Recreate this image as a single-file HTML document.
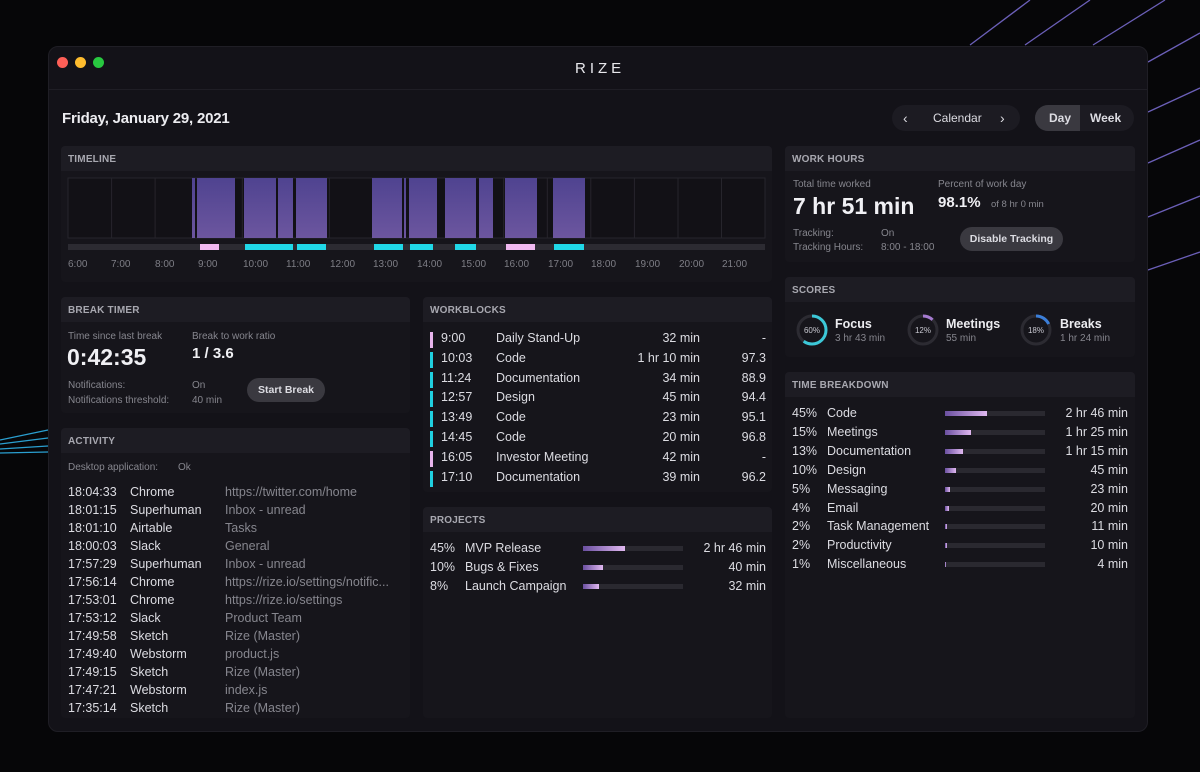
<!DOCTYPE html>
<html><head><meta charset="utf-8"><style>
*{margin:0;padding:0;box-sizing:border-box}
body{width:1200px;height:772px;background:#060608;font-family:"Liberation Sans",sans-serif;color:#dcdce2;position:relative;overflow:hidden}
.a{position:absolute;white-space:nowrap}
.win{position:absolute;left:48px;top:46px;width:1100px;height:686px;background:#131218;border-radius:10px;border:1px solid #1f1e25}
.p{position:absolute;background:#16151b;border-radius:4px;overflow:hidden}
.p .h{height:25px;background:#1d1c23;font-size:10px;font-weight:bold;color:#a8a8b0;padding:8px 0 0 7px;letter-spacing:.2px}
.s{color:#86868e}
.f13{font-size:12.5px}
.bar{position:absolute;height:5px;background:#2a2930;width:100px}
.bar i{position:absolute;left:0;top:0;height:5px;background:linear-gradient(90deg,#6a4fa0,#e0b8f0)}
.r{text-align:right}
</style></head><body>
<svg class="a" style="left:0;top:0" width="1200" height="772">
<g stroke="#6b5fb8" stroke-width="1.3">
<line x1="970" y1="45" x2="1030" y2="0"/><line x1="1025" y1="45" x2="1090" y2="0"/><line x1="1093" y1="45" x2="1165" y2="0"/>
<line x1="1148" y1="62" x2="1200" y2="33"/><line x1="1148" y1="112" x2="1200" y2="88"/><line x1="1148" y1="163" x2="1200" y2="140"/>
<line x1="1148" y1="217" x2="1200" y2="196"/><line x1="1148" y1="270" x2="1200" y2="252"/>
</g>
<g stroke="#2a9fd0" stroke-width="1.3">
<line x1="0" y1="440" x2="48" y2="430"/><line x1="0" y1="444" x2="48" y2="438"/><line x1="0" y1="449" x2="48" y2="446"/><line x1="0" y1="453" x2="48" y2="452"/>
</g>
</svg>
<div class="win"></div>
<div class="a" style="left:57px;top:57px;width:11px;height:11px;border-radius:50%;background:#fe5f57"></div>
<div class="a" style="left:75px;top:57px;width:11px;height:11px;border-radius:50%;background:#febc2e"></div>
<div class="a" style="left:93px;top:57px;width:11px;height:11px;border-radius:50%;background:#28c840"></div>
<div class="a" style="left:49px;top:89px;width:1098px;height:1px;background:#1f1e25"></div>
<div class="a" style="left:575px;top:60px;font-size:15px;letter-spacing:4px;color:#e8e8ec">RIZE</div>
<div class="a" style="left:62px;top:110px;font-size:15px;font-weight:bold;letter-spacing:-0.2px;color:#ececf0">Friday, January 29, 2021</div>
<div class="a" style="left:892px;top:105px;width:128px;height:26px;border-radius:13px;background:#1c1b22"></div>
<div class="a" style="left:903px;top:110px;font-size:14px">‹</div>
<div class="a" style="left:933px;top:111px;font-size:12px">Calendar</div>
<div class="a" style="left:1000px;top:110px;font-size:14px">›</div>
<div class="a" style="left:1035px;top:105px;width:99px;height:26px;border-radius:13px;background:#1c1b22;overflow:hidden"><div style="width:45px;height:26px;background:#3a3940"></div></div>
<div class="a" style="left:1049px;top:111px;font-size:12px;font-weight:bold">Day</div>
<div class="a" style="left:1090px;top:111px;font-size:12px;font-weight:bold">Week</div>

<div class="p" style="left:61px;top:146px;width:711px;height:136px"><div class="h">TIMELINE</div></div>
<svg class="a" style="left:0;top:0" width="800" height="290">
<defs><linearGradient id="g" x1="0" y1="0" x2="0" y2="1"><stop offset="0" stop-color="#4f4390"/><stop offset="1" stop-color="#6c569f"/></linearGradient></defs>
<rect x="68" y="178" width="697" height="60" fill="#121116" stroke="#26252c"/>
<g stroke="#26252c"><line x1="111.6" y1="178" x2="111.6" y2="238"/><line x1="155.1" y1="178" x2="155.1" y2="238"/><line x1="198.7" y1="178" x2="198.7" y2="238"/><line x1="242.3" y1="178" x2="242.3" y2="238"/><line x1="285.8" y1="178" x2="285.8" y2="238"/><line x1="329.4" y1="178" x2="329.4" y2="238"/><line x1="373" y1="178" x2="373" y2="238"/><line x1="416.5" y1="178" x2="416.5" y2="238"/><line x1="460" y1="178" x2="460" y2="238"/><line x1="503.7" y1="178" x2="503.7" y2="238"/><line x1="547.3" y1="178" x2="547.3" y2="238"/><line x1="590.8" y1="178" x2="590.8" y2="238"/><line x1="634.4" y1="178" x2="634.4" y2="238"/><line x1="678" y1="178" x2="678" y2="238"/><line x1="721.5" y1="178" x2="721.5" y2="238"/></g>
<g fill="url(#g)">
<rect x="192" y="178" width="3" height="60"/><rect x="197" y="178" width="38" height="60"/>
<rect x="244" y="178" width="32" height="60"/><rect x="278" y="178" width="15" height="60"/><rect x="296" y="178" width="31" height="60"/>
<rect x="372" y="178" width="30" height="60"/><rect x="404" y="178" width="2" height="60"/><rect x="409" y="178" width="28" height="60"/>
<rect x="445" y="178" width="31" height="60"/><rect x="479" y="178" width="14" height="60"/><rect x="505" y="178" width="32" height="60"/><rect x="553" y="178" width="32" height="60"/>
</g>
<rect x="68" y="244" width="697" height="6" fill="#2c2b32"/>
<g fill="#20d8e8"><rect x="245" y="244" width="48" height="6"/><rect x="297" y="244" width="29" height="6"/><rect x="374" y="244" width="29" height="6"/><rect x="410" y="244" width="23" height="6"/><rect x="455" y="244" width="21" height="6"/><rect x="554" y="244" width="30" height="6"/></g>
<g fill="#f0b8f0"><rect x="200" y="244" width="19" height="6"/><rect x="506" y="244" width="29" height="6"/></g>
<g fill="#7e7e86" font-size="10" font-family="Liberation Sans">
<text x="68" y="267">6:00</text><text x="111" y="267">7:00</text><text x="155" y="267">8:00</text><text x="198" y="267">9:00</text><text x="243" y="267">10:00</text><text x="286" y="267">11:00</text><text x="330" y="267">12:00</text><text x="373" y="267">13:00</text><text x="417" y="267">14:00</text><text x="461" y="267">15:00</text><text x="504" y="267">16:00</text><text x="548" y="267">17:00</text><text x="591" y="267">18:00</text><text x="635" y="267">19:00</text><text x="679" y="267">20:00</text><text x="722" y="267">21:00</text>
</g></svg>

<div class="p" style="left:785px;top:146px;width:350px;height:116px"><div class="h">WORK HOURS</div></div>
<div class="a s" style="left:793px;top:179px;font-size:10px">Total time worked</div>
<div class="a" style="left:793px;top:193px;font-size:23px;font-weight:bold;color:#f0f0f4">7 hr 51 min</div>
<div class="a s" style="left:938px;top:179px;font-size:10px">Percent of work day</div>
<div class="a" style="left:938px;top:194px;font-size:15px;font-weight:bold;color:#f0f0f4">98.1%</div>
<div class="a s" style="left:991px;top:199px;font-size:9.5px">of 8 hr 0 min</div>
<div class="a s" style="left:793px;top:227px;font-size:10px;line-height:14px">Tracking:<br>Tracking Hours:</div>
<div class="a s" style="left:881px;top:227px;font-size:10px;line-height:14px">On<br>8:00 - 18:00</div>
<div class="a" style="left:960px;top:227px;width:103px;height:24px;border-radius:12px;background:#3a3940;font-size:10.5px;font-weight:bold;text-align:center;line-height:24px">Disable Tracking</div>

<div class="p" style="left:785px;top:277px;width:350px;height:80px"><div class="h">SCORES</div></div>
<svg class="a" style="left:780px;top:300px" width="360" height="60" font-family="Liberation Sans">
<g fill="none" stroke-width="3">
<circle cx="32" cy="30" r="14" stroke="#2c2b32"/><circle cx="32" cy="30" r="14" stroke="#3cc8d8" stroke-dasharray="52.8 88" transform="rotate(-90 32 30)"/>
<circle cx="143" cy="30" r="14" stroke="#2c2b32"/><circle cx="143" cy="30" r="14" stroke="#a57bd0" stroke-dasharray="10.5 88" transform="rotate(-90 143 30)"/>
<circle cx="256" cy="30" r="14" stroke="#2c2b32"/><circle cx="256" cy="30" r="14" stroke="#3b7ed8" stroke-dasharray="15.8 88" transform="rotate(-90 256 30)"/>
</g>
<g fill="#c8c8d0" font-size="8" text-anchor="middle"><text x="32" y="33">60%</text><text x="143" y="33">12%</text><text x="256" y="33">18%</text></g>
<g fill="#ececf0" font-size="12.5" font-weight="bold"><text x="55" y="28">Focus</text><text x="166" y="28">Meetings</text><text x="280" y="28">Breaks</text></g>
<g fill="#86868e" font-size="10"><text x="55" y="41">3 hr 43 min</text><text x="166" y="41">55 min</text><text x="280" y="41">1 hr 24 min</text></g>
</svg>

<div class="p" style="left:785px;top:372px;width:350px;height:346px"><div class="h">TIME BREAKDOWN</div></div>

<div class="p" style="left:61px;top:297px;width:349px;height:116px"><div class="h">BREAK TIMER</div></div>
<div class="a s" style="left:68px;top:331px;font-size:10px">Time since last break</div>
<div class="a" style="left:67px;top:344px;font-size:23px;font-weight:bold;color:#f0f0f4">0:42:35</div>
<div class="a s" style="left:192px;top:331px;font-size:10px">Break to work ratio</div>
<div class="a" style="left:192px;top:345px;font-size:15px;font-weight:bold;color:#f0f0f4">1 / 3.6</div>
<div class="a s" style="left:68px;top:378px;font-size:10px;line-height:15px">Notifications:<br>Notifications threshold:</div>
<div class="a s" style="left:192px;top:378px;font-size:10px;line-height:15px">On<br>40 min</div>
<div class="a" style="left:247px;top:378px;width:78px;height:24px;border-radius:12px;background:#3a3940;font-size:10.5px;font-weight:bold;text-align:center;line-height:24px">Start Break</div>

<div class="p" style="left:61px;top:428px;width:349px;height:290px"><div class="h">ACTIVITY</div></div>
<div class="a s" style="left:68px;top:462px;font-size:10px">Desktop application:</div>
<div class="a s" style="left:178px;top:462px;font-size:10px">Ok</div>

<div class="p" style="left:423px;top:297px;width:349px;height:195px"><div class="h">WORKBLOCKS</div></div>

<div class="p" style="left:423px;top:507px;width:349px;height:211px"><div class="h">PROJECTS</div></div>

<script>
function add(h){document.body.insertAdjacentHTML('beforeend',h)}
var act=[["18:04:33","Chrome","https://twitter.com/home"],["18:01:15","Superhuman","Inbox - unread"],["18:01:10","Airtable","Tasks"],["18:00:03","Slack","General"],["17:57:29","Superhuman","Inbox - unread"],["17:56:14","Chrome","https://rize.io/settings/notific..."],["17:53:01","Chrome","https://rize.io/settings"],["17:53:12","Slack","Product Team"],["17:49:58","Sketch","Rize (Master)"],["17:49:40","Webstorm","product.js"],["17:49:15","Sketch","Rize (Master)"],["17:47:21","Webstorm","index.js"],["17:35:14","Sketch","Rize (Master)"]];
act.forEach(function(r,i){var y=485+i*18;add('<div class="a f13" style="left:68px;top:'+y+'px">'+r[0]+'</div><div class="a f13" style="left:130px;top:'+y+'px">'+r[1]+'</div><div class="a f13 s" style="left:225px;top:'+y+'px">'+r[2]+'</div>')});
var wb=[["9:00","Daily Stand-Up","32 min","-",1],["10:03","Code","1 hr 10 min","97.3",0],["11:24","Documentation","34 min","88.9",0],["12:57","Design","45 min","94.4",0],["13:49","Code","23 min","95.1",0],["14:45","Code","20 min","96.8",0],["16:05","Investor Meeting","42 min","-",1],["17:10","Documentation","39 min","96.2",0]];
wb.forEach(function(r,i){var y=331+i*19.8;add('<div class="a" style="left:430px;top:'+(y+1)+'px;width:3px;height:16px;background:'+(r[4]?'#e8b4ec':'#20d0e0')+'"></div><div class="a f13" style="left:441px;top:'+y+'px">'+r[0]+'</div><div class="a f13" style="left:496px;top:'+y+'px">'+r[1]+'</div><div class="a f13 r" style="left:600px;width:100px;top:'+y+'px">'+r[2]+'</div><div class="a f13 r" style="left:716px;width:50px;top:'+y+'px">'+r[3]+'</div>')});
var pr=[["45%","MVP Release",42,"2 hr 46 min"],["10%","Bugs & Fixes",20,"40 min"],["8%","Launch Campaign",16,"32 min"]];
pr.forEach(function(r,i){var y=541+i*19;add('<div class="a f13" style="left:430px;top:'+y+'px">'+r[0]+'</div><div class="a f13" style="left:465px;top:'+y+'px">'+r[1]+'</div><div class="bar" style="left:583px;top:'+(y+5)+'px"><i style="width:'+r[2]+'px"></i></div><div class="a f13 r" style="left:646px;width:120px;top:'+y+'px">'+r[3]+'</div>')});
var tb=[["45%","Code",42,"2 hr 46 min"],["15%","Meetings",26,"1 hr 25 min"],["13%","Documentation",18,"1 hr 15 min"],["10%","Design",11,"45 min"],["5%","Messaging",5,"23 min"],["4%","Email",4,"20 min"],["2%","Task Management",2,"11 min"],["2%","Productivity",2,"10 min"],["1%","Miscellaneous",1,"4 min"]];
tb.forEach(function(r,i){var y=406+i*18.9;add('<div class="a f13" style="left:792px;top:'+y+'px">'+r[0]+'</div><div class="a f13" style="left:827px;top:'+y+'px">'+r[1]+'</div><div class="bar" style="left:945px;top:'+(y+5)+'px"><i style="width:'+r[2]+'px"></i></div><div class="a f13 r" style="left:1008px;width:120px;top:'+y+'px">'+r[3]+'</div>')});
</script>
</body></html>
